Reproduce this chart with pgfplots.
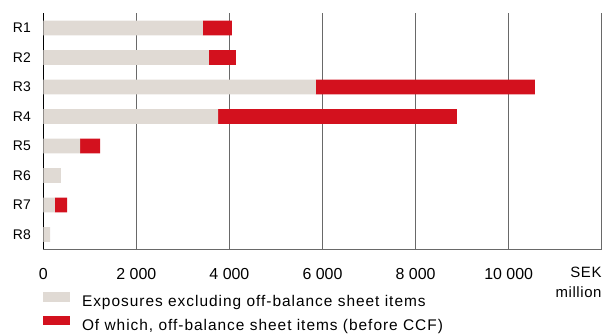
\documentclass[border=0pt]{standalone}
\usepackage{fontspec}
\setmainfont{Liberation Sans}
\newfontfamily\legendfont{Liberation Sans}[LetterSpace=6.4]
\newfontfamily\unitfont{Liberation Sans}[LetterSpace=4]
\usepackage{pgfplots}
\pgfplotsset{compat=1.18}
\definecolor{barGray}{RGB}{224,218,212}
\definecolor{barRed}{RGB}{211,17,30}
\definecolor{gridGray}{RGB}{105,105,105}
\begin{document}
\begin{tikzpicture}
\useasboundingbox (0,0) rectangle (605bp,334bp);
\begin{axis}[
  at={(43.3bp,84.7bp)}, anchor=south west,
  scale only axis, width=558.4bp, height=236bp,
  xbar stacked, bar width=14.7bp,
  xmin=0, xmax=12000,
  ymin=0.5, ymax=8.5, y dir=reverse,
  ytick={1,...,8},
  yticklabels={R1,R2,R3,R4,R5,R6,R7,R8},
  xtick={0,2000,4000,6000,8000,10000},
  scaled x ticks=false,
  extra x ticks={12000}, extra x tick labels={},
  extra x tick style={grid=major},
  axis x line*=bottom, axis y line*=left,
  x axis line style={gridGray, line width=0.9bp},
  y axis line style={black, line width=0.9bp},
  xmajorgrids, grid style={gridGray, line width=0.9bp},
  major tick length=0pt,
  yticklabel style={font=\fontsize{14}{16}\selectfont, xshift=-9bp},
  xticklabel style={font=\fontsize{16}{18}\selectfont, yshift=-15.5bp},
  /pgf/number format/assume math mode=true,
  /pgf/number format/1000 sep={\ },
  legend style={at={(rel axis cs:0,0)}, anchor=north west, yshift=-43bp,
    inner sep=0pt, outer sep=0pt,
    draw=none, fill=none, font=\legendfont\fontsize{15.5}{17}\selectfont,
    nodes={inner sep=0pt},
    legend cell align=left, row sep=7.5bp,
    /tikz/every odd column/.append style={column sep=11.7bp}},
  clip=false,
]
\addplot[fill=barGray, draw=none, legend image code/.code={\fill[barGray] (0bp,0.3bp) rectangle (27bp,9.8bp);}]
  coordinates {(3430,1) (3560,2) (5860,3) (3755,4) (790,5) (380,6) (250,7) (145,8)};
\addlegendentry{Exposures excluding off-balance sheet items}
\addplot[fill=barRed, draw=none, legend image code/.code={\fill[barRed] (0bp,0.3bp) rectangle (27bp,9.8bp);}]
  coordinates {(625,1) (580,2) (4705,3) (5135,4) (430,5) (0,6) (260,7) (0,8)};
\addlegendentry{Of which, off-balance sheet items (before CCF)}
\node[anchor=north east, align=right, font=\unitfont\fontsize{15}{20}\selectfont, inner sep=0pt]
  at ([yshift=-18bp]rel axis cs:1,0) {SEK\\million};
\end{axis}
\end{tikzpicture}
\end{document}
